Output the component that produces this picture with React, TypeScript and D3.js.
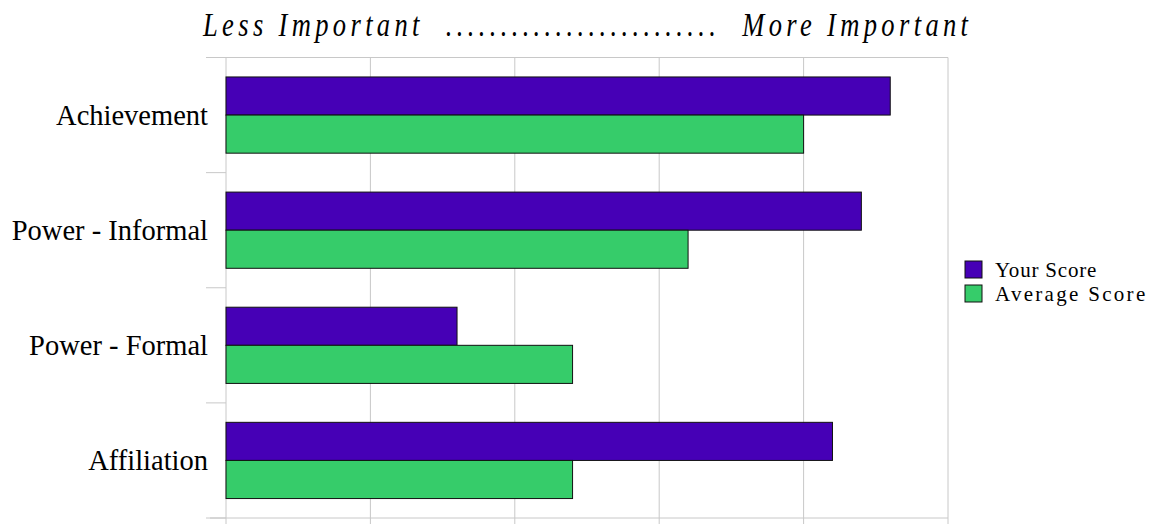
import { useMemo } from "react";
import * as d3 from "d3";

const categories = ["Achievement", "Power - Informal", "Power - Formal", "Affiliation"];
const yourScore = [4.6, 4.4, 1.6, 4.2];
const averageScore = [4.0, 3.2, 2.4, 2.4];
const seriesNames = ["Your Score", "Average Score"];
const seriesColors = ["#4600b6", "#36cc6a"];
const xTicks = [0, 1, 2, 3, 4, 5];

const W = 1156;
const H = 524;
const plot = { left: 226, right: 948, top: 57.5, bottom: 518 };

export default function App() {
  const x = useMemo(
    () => d3.scaleLinear().domain([0, 5]).range([plot.left, plot.right]),
    [],
  );
  const y = useMemo(
    () =>
      d3
        .scaleBand<string>()
        .domain(categories)
        .range([plot.top, plot.bottom])
        .paddingInner(0.338)
        .paddingOuter(0.169),
    [],
  );
  const step = y.step();
  const barH = y.bandwidth() / 2;
  const boundaries = d3.range(categories.length + 1).map((i) => plot.top + i * step);

  const series = [yourScore, averageScore];

  return (
    <svg
      width={W}
      height={H}
      style={{ position: "absolute", left: 0, top: 0, background: "#fff" }}
      fontFamily="'Liberation Serif', 'Times New Roman', serif"
    >
      {/* header, condensed italic */}
      <g transform="translate(203,36) scale(0.78,1)">
        <text
          x={0}
          y={0}
          fontSize={34}
          fontStyle="italic"
          textLength={765 / 0.78}
          lengthAdjust="spacing"
          fill="#000"
          style={{ whiteSpace: "pre" }}
        >
          {"Less Important  .........................  More Important"}
        </text>
      </g>

      {/* grid */}
      <g stroke="#c8c8c8" strokeWidth={1}>
        {xTicks.map((t) => (
          <line key={t} x1={x(t)} x2={x(t)} y1={plot.top} y2={H} />
        ))}
        <line x1={plot.left} x2={plot.right} y1={plot.top} y2={plot.top} />
        <line x1={210} x2={plot.right} y1={plot.bottom} y2={plot.bottom} />
        {boundaries.map((b, i) => (
          <line key={i} x1={206} x2={plot.left} y1={b} y2={b} />
        ))}
      </g>

      {/* bars */}
      {series.map((vals, si) => (
        <g key={si} fill={seriesColors[si]} stroke="#111" strokeWidth={1}>
          {categories.map((c, i) => (
            <rect
              key={c}
              x={x(0)}
              y={y(c)! + si * barH}
              width={x(vals[i]) - x(0)}
              height={barH}
            />
          ))}
        </g>
      ))}

      {/* category labels */}
      {categories.map((c) => (
        <text
          key={c}
          x={208}
          y={y(c)! + y.bandwidth() / 2}
          dy="0.35em"
          textAnchor="end"
          fontSize={28.5}
          fill="#000"
        >
          {c}
        </text>
      ))}

      {/* legend */}
      {seriesNames.map((n, i) => (
        <g key={n} transform={`translate(965,${261 + i * 24})`}>
          <rect width={17} height={17} fill={seriesColors[i]} stroke="#111" strokeWidth={1} />
          <text
            x={30}
            y={8.5}
            dy="0.35em"
            fontSize={21}
            letterSpacing={i === 1 ? 2.3 : 0.8}
            fill="#000"
          >
            {n}
          </text>
        </g>
      ))}
    </svg>
  );
}
